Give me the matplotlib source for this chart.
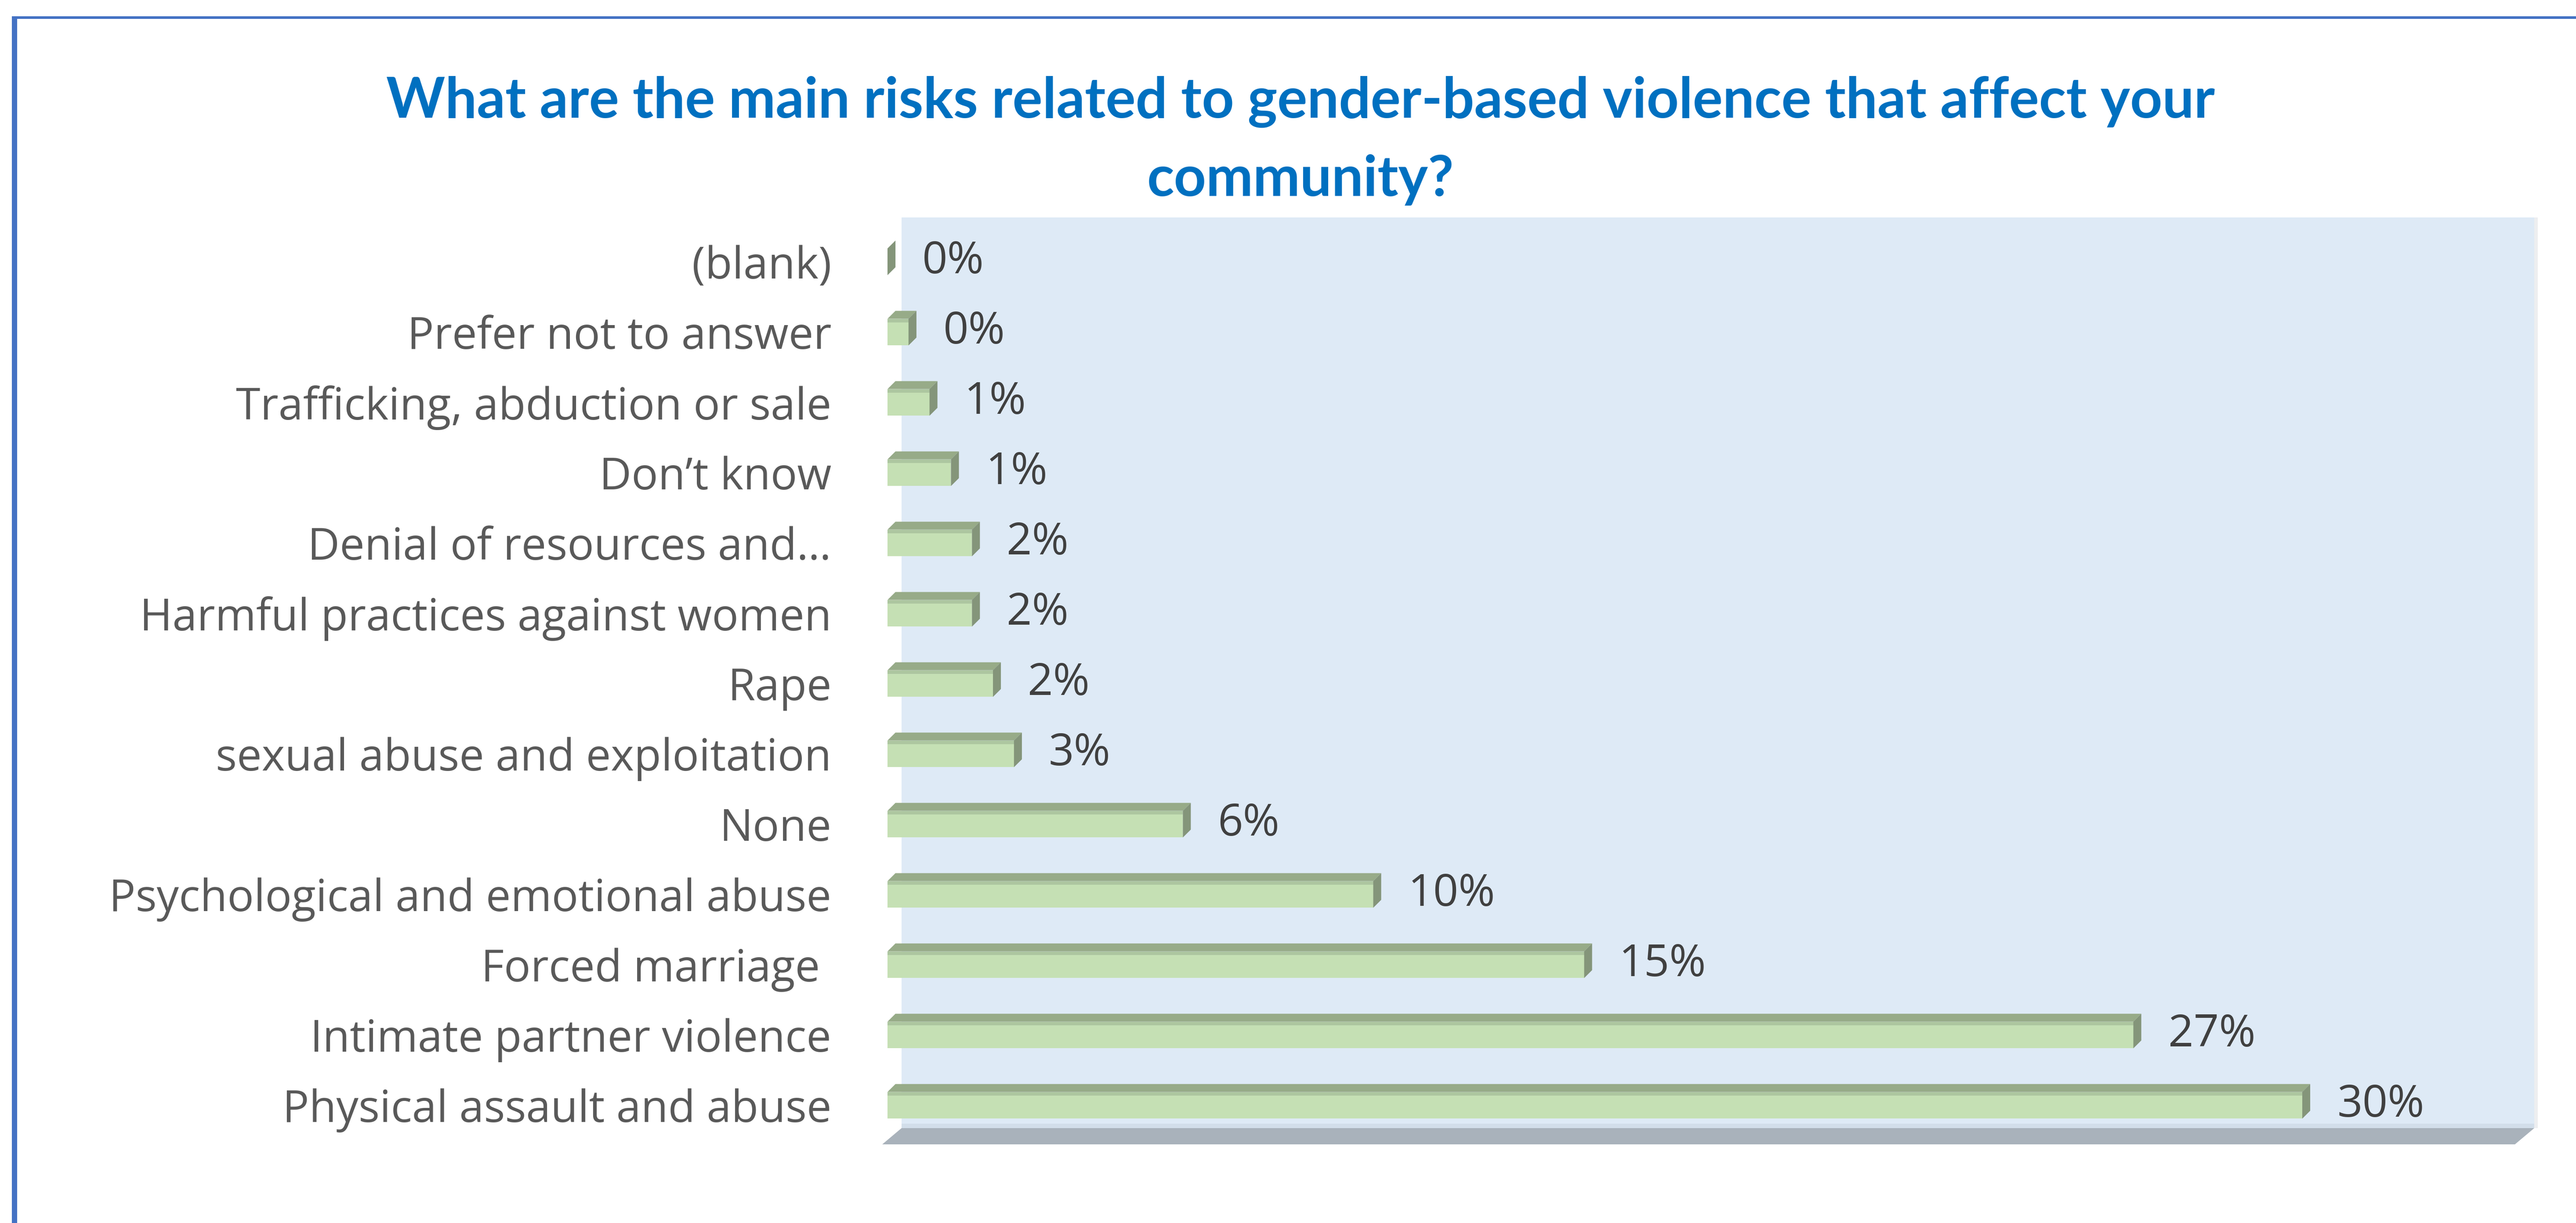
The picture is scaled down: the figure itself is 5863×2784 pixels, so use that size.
import numpy as np
import matplotlib
matplotlib.use("Agg")
import matplotlib.pyplot as plt
from matplotlib.patches import Polygon

plt.rcParams['font.family'] = ['Open Sans', 'DejaVu Sans']

# survey answers, top of the chart first
categories = ["(blank)", "Prefer not to answer", "Trafficking, abduction or sale",
              "Don\u2019t know", "Denial of resources and\u2026",
              "Harmful practices against women", "Rape",
              "sexual abuse and exploitation", "None",
              "Psychological and emotional abuse", "Forced marriage ",
              "Intimate partner violence", "Physical assault and abuse"]
# share of responses in %
shares = [0.0, 0.45, 0.90, 1.36, 1.81, 1.81, 2.26, 2.71, 6.33, 10.41, 14.93, 26.70, 30.32]
x_max = 35

title = ("What are the main risks related to gender-based violence that affect your\n"
         "community?")

W, H = 5863, 2784
fig = plt.figure(figsize=(W / 100, H / 100), dpi=100)


def fx(px):
    return px / W


def fy(py):
    return 1 - py / H


def fig_poly(pts, color, z=-1):
    fig.patches.append(Polygon([(fx(a), fy(b)) for a, b in pts], closed=True,
                               facecolor=color, edgecolor='none',
                               transform=fig.transFigure, zorder=z))


# chart border
fig_poly([(27, 37), (W, 37), (W, 43), (27, 43)], '#4472C4')
fig_poly([(27, 37), (39, 37), (39, H), (27, H)], '#4472C4')

# back wall and floor of the 3-D plot area
fig_poly([(2052, 495), (5768, 495), (5768, 2568), (2052, 2568)], '#DEEAF6')
fig_poly([(5768, 495), (5776, 495), (5776, 2568), (5768, 2568)], '#EDEEF0')
fig_poly([(2052, 2558), (5768, 2558), (5768, 2568), (2052, 2568)], '#D2DEEA')
fig_poly([(2052, 2568), (5768, 2568), (5724, 2605), (2008, 2605)], '#A9B2BB')

ax = fig.add_axes([fx(2020), fy(2605), fx(5737) - fx(2020), (2605 - 495) / H])
ax.set_xlim(0, x_max)
ax.set_ylim(-0.556, 12.631)
ax.patch.set_visible(False)
for s in ax.spines.values():
    s.set_visible(False)
ax.set_xticks([])

y = np.arange(len(categories))[::-1]
bar_h = 0.38
dx, dy = 0.17, 0.1125  # bar depth in data units

ax.barh(y, shares, height=bar_h, color='#C5E0B4', zorder=3)
for yi, v in zip(y, shares):
    yt, yb = yi + bar_h / 2, yi - bar_h / 2
    ax.add_patch(Polygon([(0, yt), (v, yt), (v + dx, yt + dy), (dx, yt + dy)],
                         facecolor='#97AB88', edgecolor='none', zorder=3))
    ax.add_patch(Polygon([(0, yt - 0.05), (v, yt - 0.05), (v, yt), (0, yt)],
                         facecolor='#ADC6A0', edgecolor='none', zorder=3))
    ax.add_patch(Polygon([(v, yb), (v, yt), (v + dx, yt + dy), (v + dx, yb + dy)],
                         facecolor='#84957A', edgecolor='none', zorder=3))
    ax.annotate(f"{v:.0f}%", xy=(v, yi), xytext=(57, 0), textcoords='offset points',
                ha='left', va='center', fontsize=72.5, color='#404040', zorder=4)

ax.set_yticks(y, categories)
ax.tick_params(axis='y', length=0, pad=92, labelsize=72.5, labelcolor='#595959')

fig.text(fx(2960), fy(173), title, ha='center', va='top', fontsize=92,
         fontweight='bold', color='#0070C0', linespacing=1.63,
         family=['Lato', 'DejaVu Sans'])

fig.savefig('out.png', dpi=100, facecolor='white')
